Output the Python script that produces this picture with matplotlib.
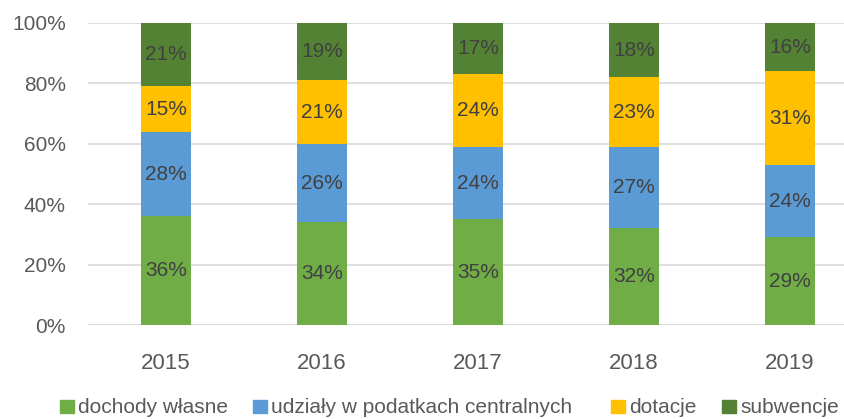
import matplotlib
matplotlib.use('Agg')
import matplotlib.pyplot as plt
import numpy as np

years = ['2015', '2016', '2017', '2018', '2019']
series = ['dochody własne', 'udziały w podatkach centralnych', 'dotacje', 'subwencje']
dochody = [36, 34, 35, 32, 29]
udzialy = [28, 26, 24, 27, 24]
dotacje = [15, 21, 24, 23, 31]
subwencje = [21, 19, 17, 18, 16]
colors = ['#70AD47', '#5B9BD5', '#FFC000', '#548235']

plt.rcParams['font.family'] = ['Liberation Sans', 'DejaVu Sans']

W, H = 844, 419
fig = plt.figure(figsize=(W/100, H/100), dpi=100)
# plot area runs past the right edge, as in the cropped source
ax = fig.add_axes([88/W, 94/H, 780/W, 302/H])

x = np.arange(len(years))
bottom = np.zeros(len(years))
for name, vals, c in zip(series, [dochody, udzialy, dotacje, subwencje], colors):
    vals = np.array(vals, dtype=float)
    ax.bar(x, vals, 0.315, bottom=bottom, color=c, label=name, zorder=3)
    for xi, b, v in zip(x, bottom, vals):
        ax.text(xi, b + v/2, f'{int(v)}%', ha='center', va='center',
                fontsize=15, color='#404040', zorder=4)
    bottom += vals

ax.set_xlim(-0.5, len(years) - 0.5)
ax.set_ylim(0, 100)
ax.set_yticks(range(0, 101, 20))
ax.set_yticklabels([f'{v}%' for v in range(0, 101, 20)])
ax.set_xticks(x)
ax.set_xticklabels(years)
ax.tick_params(length=0, colors='#595959')
ax.tick_params(axis='y', labelsize=15, pad=16)
ax.tick_params(axis='x', labelsize=16, pad=20)
ax.yaxis.grid(True, color='#D9D9D9', lw=1.2, zorder=0)
for s in ax.spines.values():
    s.set_visible(False)
ax.axhline(0, color='#D9D9D9', lw=1.2, zorder=1)

# legend drawn by hand so the entries sit where the source puts them
# (pixel positions measured from the top of the picture)
leg_x = [60, 253, 611, 722]
for xp, name, c in zip(leg_x, series, colors):
    sq = plt.Rectangle((xp/W, (H - 413)/H), 14/W, 13/H,
                       transform=fig.transFigure, color=c, figure=fig)
    fig.patches.append(sq)
    fig.text((xp + 18)/W, (H - 407)/H, name, fontsize=15, color='#595959',
             ha='left', va='center')

fig.savefig('out.png', dpi=100)
